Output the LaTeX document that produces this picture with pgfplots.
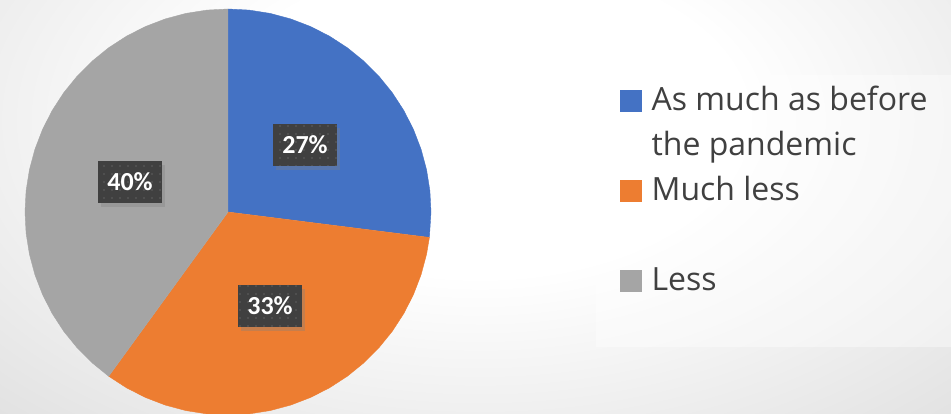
\documentclass[border=0pt]{standalone}
\usepackage{fontspec}
\setmainfont{Open Sans}
\newfontfamily\lblfont{Carlito}
\usepackage{pgfplots}
\pgfplotsset{compat=1.18}
\usetikzlibrary{shadows,patterns.meta}
\definecolor{cblue}{HTML}{4472C4}
\definecolor{corange}{HTML}{ED7D31}
\definecolor{cgray}{HTML}{A5A5A5}
\definecolor{boxdark}{HTML}{404040}
\definecolor{boxdot}{HTML}{555555}
\definecolor{txtgray}{HTML}{404040}
\definecolor{bgedge}{HTML}{7C7C7C}
\pgfdeclareradialshading{bgshade}{\pgfpoint{0bp}{0bp}}{color(0bp)=(white);color(6bp)=(white);color(50bp)=(bgedge)}
\tikzset{lbl/.style={fill=boxdark, minimum width=64pt, minimum height=42pt, inner sep=0pt,
    text=white, font=\fontsize{26}{30}\lblfont\bfseries\selectfont,
    drop shadow={shadow xshift=3pt, shadow yshift=-4pt, opacity=0.35},
    postaction={pattern={Dots[distance=8pt,radius=1.2pt]}, pattern color=boxdot}}}
\begin{document}
\begin{tikzpicture}[x=1pt,y=1pt]
\useasboundingbox (0,0) rectangle (951,414);
\begin{scope}
\clip (0,0) rectangle (951,414);
\shade[shading=bgshade] (-620,-356) rectangle (1580,944);
\fill[white,fill opacity=0.4] (596,67) rectangle (960,339);
\end{scope}
\begin{axis}[
  at={(0,0)}, anchor=south west,
  scale only axis, width=951pt, height=414pt,
  xmin=-228, xmax=723, ymin=-202, ymax=212,
  hide axis, clip=false,
  legend image code/.code={\fill[#1] (0pt,-1pt) rectangle (21pt,20pt);},
  legend style={at={(axis cs:368,137)}, anchor=north west, draw=none, fill=none,
    inner xsep=24pt, inner ysep=0pt, font=\fontsize{32}{45}\selectfont, text=txtgray,
    row sep=0pt, column sep=10pt,
    cells={anchor=base west},
    nodes={inner sep=0pt, text height=35pt, text depth=55pt}},
]
\addplot[fill=cblue, draw=cblue, line width=0.4pt, data cs=polar] coordinates {
(0,0) (90,203) (84,203) (78,203) (72,203) (66,203) (60,203) (54,203) (48,203) (42,203) (36,203) (30,203) (24,203) (18,203) (12,203) (6,203) (0,203) (-7.2,203)};
\addlegendentry{\vtop{\hbox{As much as before}\hbox{the pandemic}}}
\addplot[fill=corange, draw=corange, line width=0.4pt, data cs=polar] coordinates {
(0,0) (-7.2,203) (-12,203) (-18,203) (-24,203) (-30,203) (-36,203) (-42,203) (-48,203) (-54,203) (-60,203) (-66,203) (-72,203) (-78,203) (-84,203) (-90,203) (-96,203) (-102,203) (-108,203) (-114,203) (-120,203) (-126,203)};
\addlegendentry{Much less}
\addplot[fill=cgray, draw=cgray, line width=0.4pt, data cs=polar] coordinates {
(0,0) (-126,203) (-132,203) (-138,203) (-144,203) (-150,203) (-156,203) (-162,203) (-168,203) (-174,203) (-180,203) (-186,203) (-192,203) (-198,203) (-204,203) (-210,203) (-216,203) (-222,203) (-228,203) (-234,203) (-240,203) (-246,203) (-252,203) (-258,203) (-264,203) (-270,203)};
\addlegendentry{Less}
\node[lbl] at (axis cs:77,67) {27\%};
\node[lbl] at (axis cs:-98,30) {40\%};
\node[lbl] at (axis cs:42,-94) {33\%};
\end{axis}
\end{tikzpicture}
\end{document}
